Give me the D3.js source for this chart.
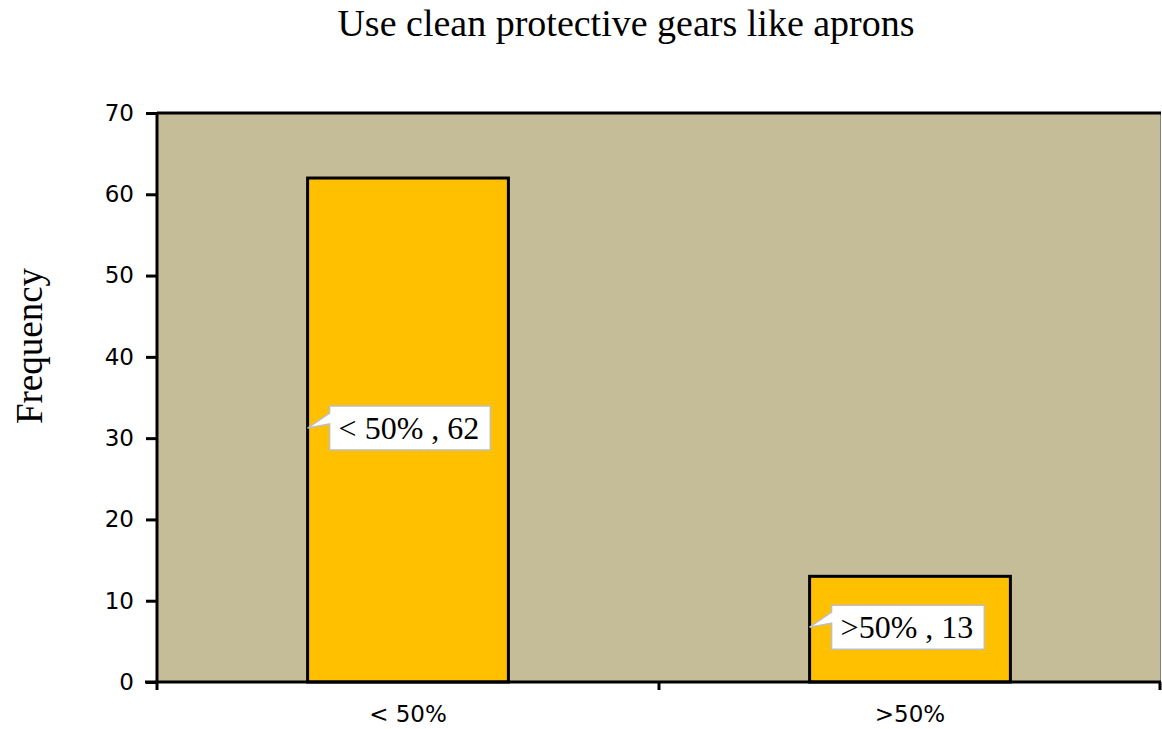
<!DOCTYPE html>
<html>
<head>
<meta charset="utf-8">
<script src="https://cdn.jsdelivr.net/npm/d3@7/dist/d3.min.js"></script>
<style>
  html, body { margin: 0; padding: 0; background: #ffffff; }
  svg { display: block; }
</style>
</head>
<body>
<script>
const categories = ["< 50%", ">50%"];
const values = [62, 13];
const labels = ["< 50% , 62", ">50% , 13"];
const yTicks = [0, 10, 20, 30, 40, 50, 60, 70];
const title = "Use clean protective gears like aprons";
const yTitle = "Frequency";

const W = 1162, H = 729;
const m = { left: 157, right: 1, top: 113, bottom: 47 };
const svg = d3.select("body").append("svg").attr("width", W).attr("height", H);

const x = d3.scaleBand().domain(categories).range([m.left, W - m.right])
  .paddingInner(0.6).paddingOuter(0.3);
const y = d3.scaleLinear().domain([0, 70]).range([H - m.bottom, m.top]);

// plot area
svg.append("rect")
  .attr("x", m.left).attr("y", m.top)
  .attr("width", W - m.right - m.left).attr("height", y(0) - m.top)
  .attr("fill", "#C4BD97");
// right thin border
svg.append("line").attr("x1", W - 1.5).attr("x2", W - 1.5)
  .attr("y1", m.top).attr("y2", y(0)).attr("stroke", "#808080").attr("stroke-width", 1);
// top border
svg.append("line").attr("x1", m.left).attr("x2", W - 1)
  .attr("y1", m.top).attr("y2", m.top).attr("stroke", "#000").attr("stroke-width", 3);

// bars
svg.selectAll("rect.bar").data(values).join("rect").attr("class", "bar")
  .attr("x", (d, i) => x(categories[i]))
  .attr("y", d => y(d))
  .attr("width", x.bandwidth())
  .attr("height", d => y(0) - y(d))
  .attr("fill", "#FFC000").attr("stroke", "#000").attr("stroke-width", 3);

// y axis
const yAxis = svg.append("g").attr("transform", `translate(${m.left},0)`)
  .call(d3.axisLeft(y).tickValues(yTicks).tickSize(11).tickPadding(12));
yAxis.select(".domain").attr("stroke", "#000").attr("stroke-width", 3)
  .attr("d", `M0,${y(0)}V${m.top}`);
yAxis.selectAll(".tick line").attr("stroke", "#000").attr("stroke-width", 3);
yAxis.selectAll(".tick text").attr("font-family", "DejaVu Sans").attr("font-size", 23)
  .attr("fill", "#000");

// x axis
const xAxis = svg.append("g").attr("transform", `translate(0,${y(0)})`);
xAxis.append("line").attr("x1", m.left - 12).attr("x2", W - 1)
  .attr("y1", 0).attr("y2", 0).attr("stroke", "#000").attr("stroke-width", 3);
const bounds = [x.range()[0], (x.range()[0] + x.range()[1]) / 2, x.range()[1] - 1];
xAxis.selectAll("line.xt").data(bounds).join("line").attr("class", "xt")
  .attr("x1", d => d).attr("x2", d => d).attr("y1", 0).attr("y2", 8)
  .attr("stroke", "#000").attr("stroke-width", 3);
xAxis.selectAll("text").data(categories).join("text")
  .attr("x", d => x(d) + x.bandwidth() / 2).attr("y", 40)
  .attr("text-anchor", "middle").attr("font-family", "DejaVu Sans").attr("font-size", 23)
  .attr("fill", "#000").text(d => d);

// callouts
const cg = svg.selectAll("g.callout").data(values).join("g").attr("class", "callout");
cg.each(function (d, i) {
  const g = d3.select(this);
  const tipX = x(categories[i]);
  const tipY = y(d / 2) - 2;
  const t = g.append("text")
    .attr("font-family", "Liberation Serif, Times New Roman, serif").attr("font-size", 32)
    .attr("fill", "#000").text(labels[i]);
  const bw = t.node().getComputedTextLength();
  const bx = tipX + 22, by = tipY - 22, bh = 44, bwid = bw + 20;
  g.insert("path", "text")
    .attr("d", `M${bx},${by}H${bx + bwid}V${by + bh}H${bx}V${by + 18}L${tipX},${tipY}L${bx},${by + 7}Z`)
    .attr("fill", "#fff").attr("stroke", "#BFBFBF").attr("stroke-width", 1.5);
  t.attr("x", bx + 9).attr("y", by + 33);
});

// title
svg.append("text").attr("x", 626).attr("y", 36).attr("text-anchor", "middle")
  .attr("font-family", "Liberation Serif, Times New Roman, serif").attr("font-size", 38)
  .attr("fill", "#000").text(title);

// y title
svg.append("text").attr("transform", `translate(42,346) rotate(-90)`)
  .attr("text-anchor", "middle")
  .attr("font-family", "Liberation Serif, Times New Roman, serif").attr("font-size", 37)
  .attr("fill", "#000").text(yTitle);
</script>
</body>
</html>
